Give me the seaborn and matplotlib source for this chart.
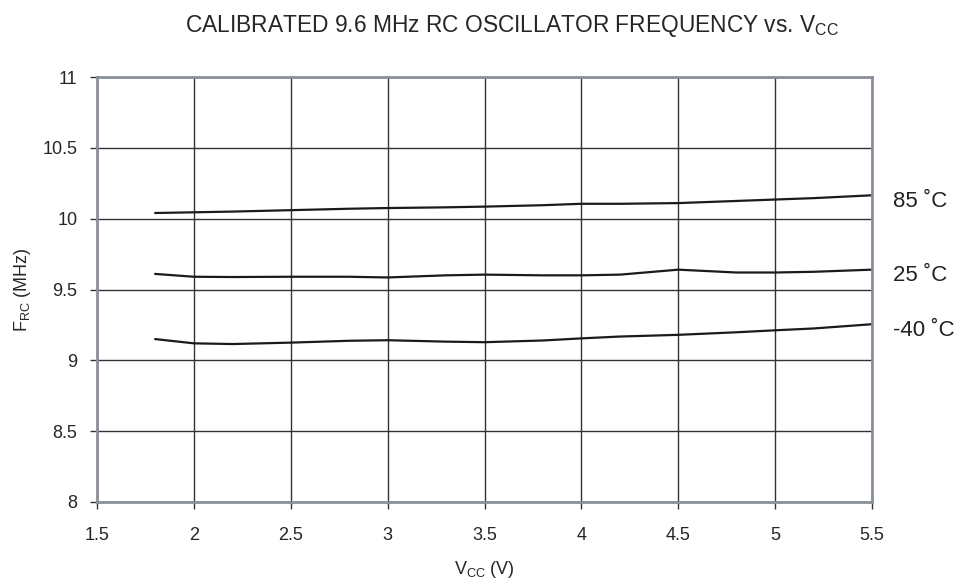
import pandas as pd
import matplotlib.pyplot as plt
import seaborn as sns

# Values
vcc = [1.8, 2.0, 2.2, 2.5, 2.8, 3.0, 3.3, 3.5, 3.8, 4.0, 4.2, 4.5, 4.8, 5.0, 5.2, 5.5]
f_85 = [10.04, 10.045, 10.05, 10.06, 10.07, 10.075, 10.08, 10.085, 10.095, 10.105, 10.105, 10.11, 10.125, 10.135, 10.145, 10.165]
f_25 = [9.61, 9.59, 9.588, 9.59, 9.59, 9.585, 9.60, 9.605, 9.60, 9.60, 9.605, 9.64, 9.62, 9.62, 9.625, 9.64]
f_m40 = [9.15, 9.12, 9.115, 9.125, 9.138, 9.142, 9.132, 9.128, 9.14, 9.155, 9.168, 9.18, 9.198, 9.212, 9.225, 9.255]
temps = ['85 ˚C', '25 ˚C', '-40 ˚C']

sns.set_style('white')
plt.rcParams['font.family'] = ['Liberation Sans', 'DejaVu Sans']

df = pd.concat([
    pd.DataFrame({'Vcc': vcc, 'F': f, 'Temp': t})
    for f, t in zip([f_85, f_25, f_m40], temps)
])

fig = plt.figure(figsize=(9.64, 5.84), dpi=100)
ax = fig.add_axes([97 / 964, 1 - 502 / 584, 775 / 964, 425 / 584])

sns.lineplot(data=df, x='Vcc', y='F', units='Temp', estimator=None,
             color='#1a1a1a', linewidth=1.6, ax=ax, legend=False)

ax.set_xlim(1.5, 5.5)
ax.set_ylim(8, 11)
ax.set_xticks([1.5, 2, 2.5, 3, 3.5, 4, 4.5, 5, 5.5])
ax.set_xticklabels(['1.5', '2', '2.5', '3', '3.5', '4', '4.5', '5', '5.5'])
ax.set_yticks([8, 8.5, 9, 9.5, 10, 10.5, 11])
ax.set_yticklabels(['8', '8.5', '9', '9.5', '10', '10.5', '11'])
ax.grid(True, color='#333333', linewidth=1.0)
for s in ax.spines.values():
    s.set_color('#8a9099')
    s.set_linewidth(2)
ax.tick_params(axis='both', direction='out', length=5, width=1, color='#333333',
               labelsize=13, pad=9, left=True, bottom=True)
ax.tick_params(axis='x', pad=13)

# curve labels at the right edge
for f, t in zip([f_85, f_25, f_m40], temps):
    ax.text(1.027, (f[-1] - 8) / 3 - 0.014, t, transform=ax.transAxes,
            fontsize=16, va='center', ha='left', color='#222222')

ax.set_xlabel('V$_{\\mathregular{CC}}$ (V)', fontsize=13, labelpad=11)
ax.set_ylabel('F$_{\\mathregular{RC}}$ (MHz)', fontsize=13, labelpad=7)
fig.text(0.531, 0.955, 'CALIBRATED 9.6 MHz RC OSCILLATOR FREQUENCY vs. V$_{\\mathregular{CC}}$',
         ha='center', va='center', fontsize=16.4)

fig.savefig('out.png', dpi=100)
